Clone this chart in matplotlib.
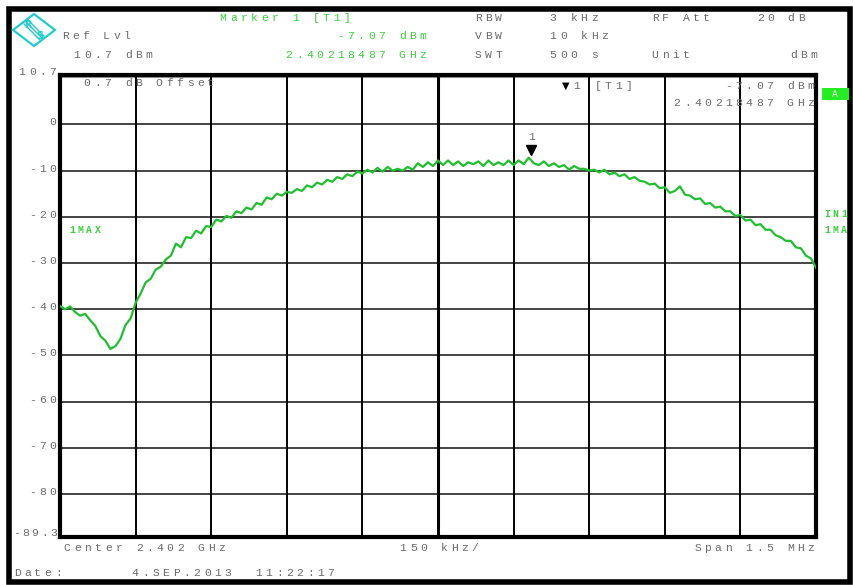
import matplotlib.pyplot as plt
import numpy as np
from matplotlib.patches import Polygon, Rectangle

# Trace data: level in dBm, equally spaced over the span
center_ghz = 2.402
span_mhz = 1.5
ref_level = 10.7
bottom_level = -89.3
marker_freq = 2.40218487
marker_level = -7.07

level = [
    -39.3, -40.0, -39.4, -40.6, -41.4, -41.0, -42.4, -43.6, -45.8, -46.8,
    -48.6, -48.0, -46.4, -43.4, -42.0, -38.6, -36.6, -34.2, -33.4, -31.4,
    -30.8, -29.2, -28.4, -25.8, -26.6, -24.4, -24.6, -23.0, -23.6, -22.0,
    -22.2, -20.6, -21.0, -19.8, -20.2, -18.8, -19.2, -18.0, -18.4, -17.0,
    -17.4, -15.8, -16.2, -15.0, -15.4, -14.6, -14.8, -14.0, -14.4, -13.2,
    -13.6, -12.6, -13.0, -12.0, -12.4, -11.4, -11.8, -10.8, -11.2, -10.2,
    -10.6, -9.8, -10.4, -9.4, -10.2, -9.2, -10.0, -9.6, -10.0, -9.2,
    -9.8, -8.4, -9.2, -8.2, -9.0, -7.8, -8.8, -7.8, -8.8, -8.0,
    -9.0, -8.2, -8.6, -8.0, -9.0, -7.8, -8.8, -8.2, -8.8, -7.8,
    -8.8, -7.8, -8.6, -7.2, -8.4, -8.8, -8.0, -9.0, -8.4, -9.2,
    -8.8, -9.8, -9.0, -9.6, -9.6, -10.0, -9.8, -10.4, -9.8, -10.8,
    -10.4, -11.2, -10.8, -11.8, -11.4, -12.2, -12.4, -13.0, -12.8, -13.8,
    -13.6, -14.8, -14.4, -13.4, -15.2, -15.4, -16.2, -16.0, -17.2, -17.0,
    -18.0, -17.8, -18.8, -18.8, -19.8, -19.6, -20.8, -20.6, -21.8, -21.6,
    -22.8, -22.8, -24.0, -24.4, -25.2, -25.2, -26.6, -26.8, -28.4, -29.0,
    -31.0,
]

ytick_vals = [0, -10, -20, -30, -40, -50, -60, -70, -80]

W, H = 854, 585
GRAY = '#6a6a6a'
GREEN_TXT = '#3ccc3c'
TRACE = '#1fbf2f'


def px(x, y):
    return x / W, 1 - y / H


def spaced(x, y, s, color=GRAY, ha='left', pitch=10.3, size=8.2, weight='normal'):
    # instrument style text: fixed, wide character pitch
    x0 = x if ha == 'left' else x - len(s) * pitch
    for i, ch in enumerate(s):
        if ch == ' ':
            continue
        fx, fy = px(x0 + i * pitch + pitch / 2, y)
        fig.text(fx, fy, ch, color=color, ha='center', va='center',
                 fontsize=size, family='Liberation Mono', fontweight=weight)


fig = plt.figure(figsize=(W / 100, H / 100), dpi=100)

# outer frame
fig.patches.append(Rectangle(px(9, 582), 841 / W, 573 / H, transform=fig.transFigure,
                             fill=False, edgecolor='black', linewidth=4))

# R&S logo
cx, cy = 34, 30
diamond = [px(cx - 21, cy), px(cx, cy - 16), px(cx + 21, cy), px(cx, cy + 16)]
fig.patches.append(Polygon(diamond, closed=True, transform=fig.transFigure,
                           fill=False, edgecolor='#22cccc', linewidth=1.6))
for d in (-2, 0, 2):
    p0 = px(cx - 8 + d, cy - 8 - d)
    p1 = px(cx + 8 + d, cy + 8 - d)
    fig.lines.append(plt.Line2D([p0[0], p1[0]], [p0[1], p1[1]],
                                transform=fig.transFigure, color='#22cccc', linewidth=1))
fig.text(*px(28, 25), 'R', color='#22cccc', fontsize=7, ha='center', va='center', fontweight='bold')
fig.text(*px(40, 36), 'S', color='#22cccc', fontsize=7, ha='center', va='center', fontweight='bold')

# header
spaced(218, 18, 'Marker 1 [T1]', GREEN_TXT)
spaced(473, 18, 'RBW')
spaced(548, 18, '3 kHz')
spaced(650, 18, 'RF Att')
spaced(755, 18, '20 dB')
spaced(60, 36, 'Ref Lvl')
spaced(428, 36, '-7.07 dBm', GREEN_TXT, ha='right')
spaced(473, 36, 'VBW')
spaced(548, 36, '10 kHz')
spaced(72, 55, '10.7 dBm')
spaced(428, 55, '2.40218487 GHz', GREEN_TXT, ha='right')
spaced(473, 55, 'SWT')
spaced(548, 55, '500 s')
spaced(650, 55, 'Unit')
spaced(819, 55, 'dBm', ha='right')

# plot area
ax = fig.add_axes([60 / W, 1 - 537 / H, 756 / W, 462 / H])
f0 = center_ghz - span_mhz / 2000
f1 = center_ghz + span_mhz / 2000
freqs = np.linspace(f0, f1, len(level))
ax.set_xlim(f0, f1)
ax.set_ylim(bottom_level, ref_level)
for v in ytick_vals:
    ax.axhline(v, color='#444444', linewidth=1.4, zorder=1)
ax.axhline(10.2, color='#999999', linewidth=0.8, zorder=1)
vlines = np.linspace(f0, f1, 11)[1:-1]
for i, v in enumerate(vlines):
    ax.axvline(v, color='black', linewidth=2.2 if i == 4 else 1.4, zorder=1)
ax.plot(freqs, level, color=TRACE, linewidth=1.6, zorder=3)
ax.plot([marker_freq], [marker_level + 1.6], marker='v', color='black', markersize=7, zorder=4)
ax.text(marker_freq, marker_level + 4.3, '1', color=GRAY, ha='center', va='center',
        fontsize=8.2, family='Liberation Mono')
ax.set_xticks([])
ax.set_yticks([])
for s in ax.spines.values():
    s.set_linewidth(3)
    s.set_color('black')

# y labels
spaced(58, 72, '10.7', ha='right')
for v in ytick_vals:
    ypix = 75 + (ref_level - v) * 4.62
    spaced(58, ypix - 2, str(v), ha='right')
spaced(58, 533, '-89.3', ha='right', pitch=9.2)

# texts inside the plot
spaced(82, 83.5, '0.7 dB Offset')
spaced(572, 86, '1 [T1]')
fig.text(*px(566, 86), '\u25bc', color='black', fontsize=7, ha='center', va='center')
spaced(816, 86, '-7.07 dBm', ha='right')
spaced(816, 103, '2.40218487 GHz', ha='right')
spaced(68, 230, '1MAX', GREEN_TXT, pitch=8.5, size=7, weight='bold')

# right side labels
fig.patches.append(Rectangle(px(822, 100), 27 / W, 12 / H, transform=fig.transFigure,
                             facecolor='#22ee22', edgecolor='none'))
fig.text(*px(835, 94), 'A', color='white', fontsize=7, ha='center', va='center', family='Liberation Mono')
spaced(823, 214, 'IN1', GREEN_TXT, pitch=8.5, size=7, weight='bold')
spaced(823, 230, '1MA', GREEN_TXT, pitch=8.5, size=7, weight='bold')

# footer
spaced(62, 548, 'Center 2.402 GHz')
spaced(398, 548, '150 kHz/')
spaced(816, 548, 'Span 1.5 MHz', ha='right')
spaced(12, 573, 'Date:')
spaced(130, 573, '4.SEP.2013  11:22:17')

fig.savefig('out.png', dpi=100)
